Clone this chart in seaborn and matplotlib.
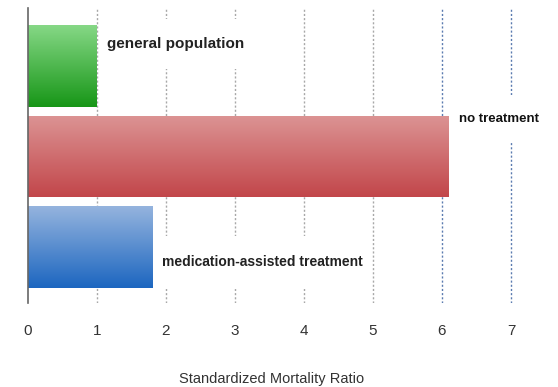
import numpy as np
import pandas as pd
import matplotlib
matplotlib.use("Agg")
import matplotlib.pyplot as plt
from matplotlib.colors import LinearSegmentedColormap
import seaborn as sns

groups = ["general population", "no treatment", "medication-assisted treatment"]
smr = [1.0, 6.1, 1.8]
ticks = [0, 1, 2, 3, 4, 5, 6, 7]
top_colors = ["#86d886", "#dc9494", "#95b4de"]
bottom_colors = ["#179617", "#c2464a", "#1c66c0"]

sns.set_theme(style="white")
plt.rcParams["font.family"] = ["Liberation Sans", "DejaVu Sans"]

df = pd.DataFrame({"group": groups, "smr": smr})

fig = plt.figure(figsize=(5.58, 3.87), dpi=100)
ax = fig.add_axes([28 / 558, 1 - 303 / 387, 517.5 / 558, 295 / 387])

sns.barplot(data=df, y="group", x="smr", hue="group", palette=bottom_colors,
            orient="h", width=0.9, legend=False, ax=ax, zorder=3)

# vertical gradient fill on each bar
for patch, c_top, c_bot in zip(ax.patches, top_colors, bottom_colors):
    x0, y0 = patch.get_x(), patch.get_y()
    w, h = patch.get_width(), patch.get_height()
    cmap = LinearSegmentedColormap.from_list("g", [c_top, c_bot])
    grad = np.linspace(0, 1, 256).reshape(-1, 1)
    im = ax.imshow(grad, cmap=cmap, aspect="auto",
                   extent=[x0, x0 + w, y0 + h, y0], origin="upper", zorder=4)
    im.set_clip_path(patch)
    patch.set_edgecolor("none")

# dotted reference lines
for t in ticks[1:]:
    col = "#5b7bb0" if t >= 6 else "#a8a8a8"
    ax.axvline(t, color=col, lw=1.0, ls=(0, (1.5, 1.5)), zorder=1)

ax.set_xlim(0, 7.5)
ax.set_ylim(2.62, -0.64)
ax.set_xticks(ticks)
ax.set_xticklabels([str(t) for t in ticks], fontsize=11, color="#333333")
ax.tick_params(axis="x", length=0, pad=15)
ax.set_yticks([])
ax.set_ylabel("")
ax.set_xlabel("Standardized Mortality Ratio", fontsize=10.5, color="#333333")
ax.xaxis.set_label_coords(0.47, -0.235)

for s in ["top", "right", "bottom"]:
    ax.spines[s].set_visible(False)
ax.spines["left"].set_color("#666666")
ax.spines["left"].set_linewidth(1.2)
ax.spines["left"].set_zorder(5)

# labels sit on white boxes that break the dotted lines above and below them
box = dict(facecolor="white", edgecolor="none", pad=1)
ax.text(smr[0] + 0.14, -0.24, "\n" + groups[0] + "\n", fontsize=11, fontweight="bold",
        color="#222222", va="center", ha="left", bbox=box, zorder=2, linespacing=1.25)
ax.text(smr[1] + 0.15, 0.585, "\n" + groups[1] + "\n", fontsize=9.5, fontweight="bold",
        color="#111111", va="center", ha="left", bbox=box, zorder=2, linespacing=1.45)
ax.text(smr[2] + 0.14, 2.17, "\n" + groups[2] + "\n", fontsize=10, fontweight="bold",
        color="#222222", va="center", ha="left", bbox=box, zorder=2, linespacing=1.35)

fig.savefig("out.png", dpi=100)
